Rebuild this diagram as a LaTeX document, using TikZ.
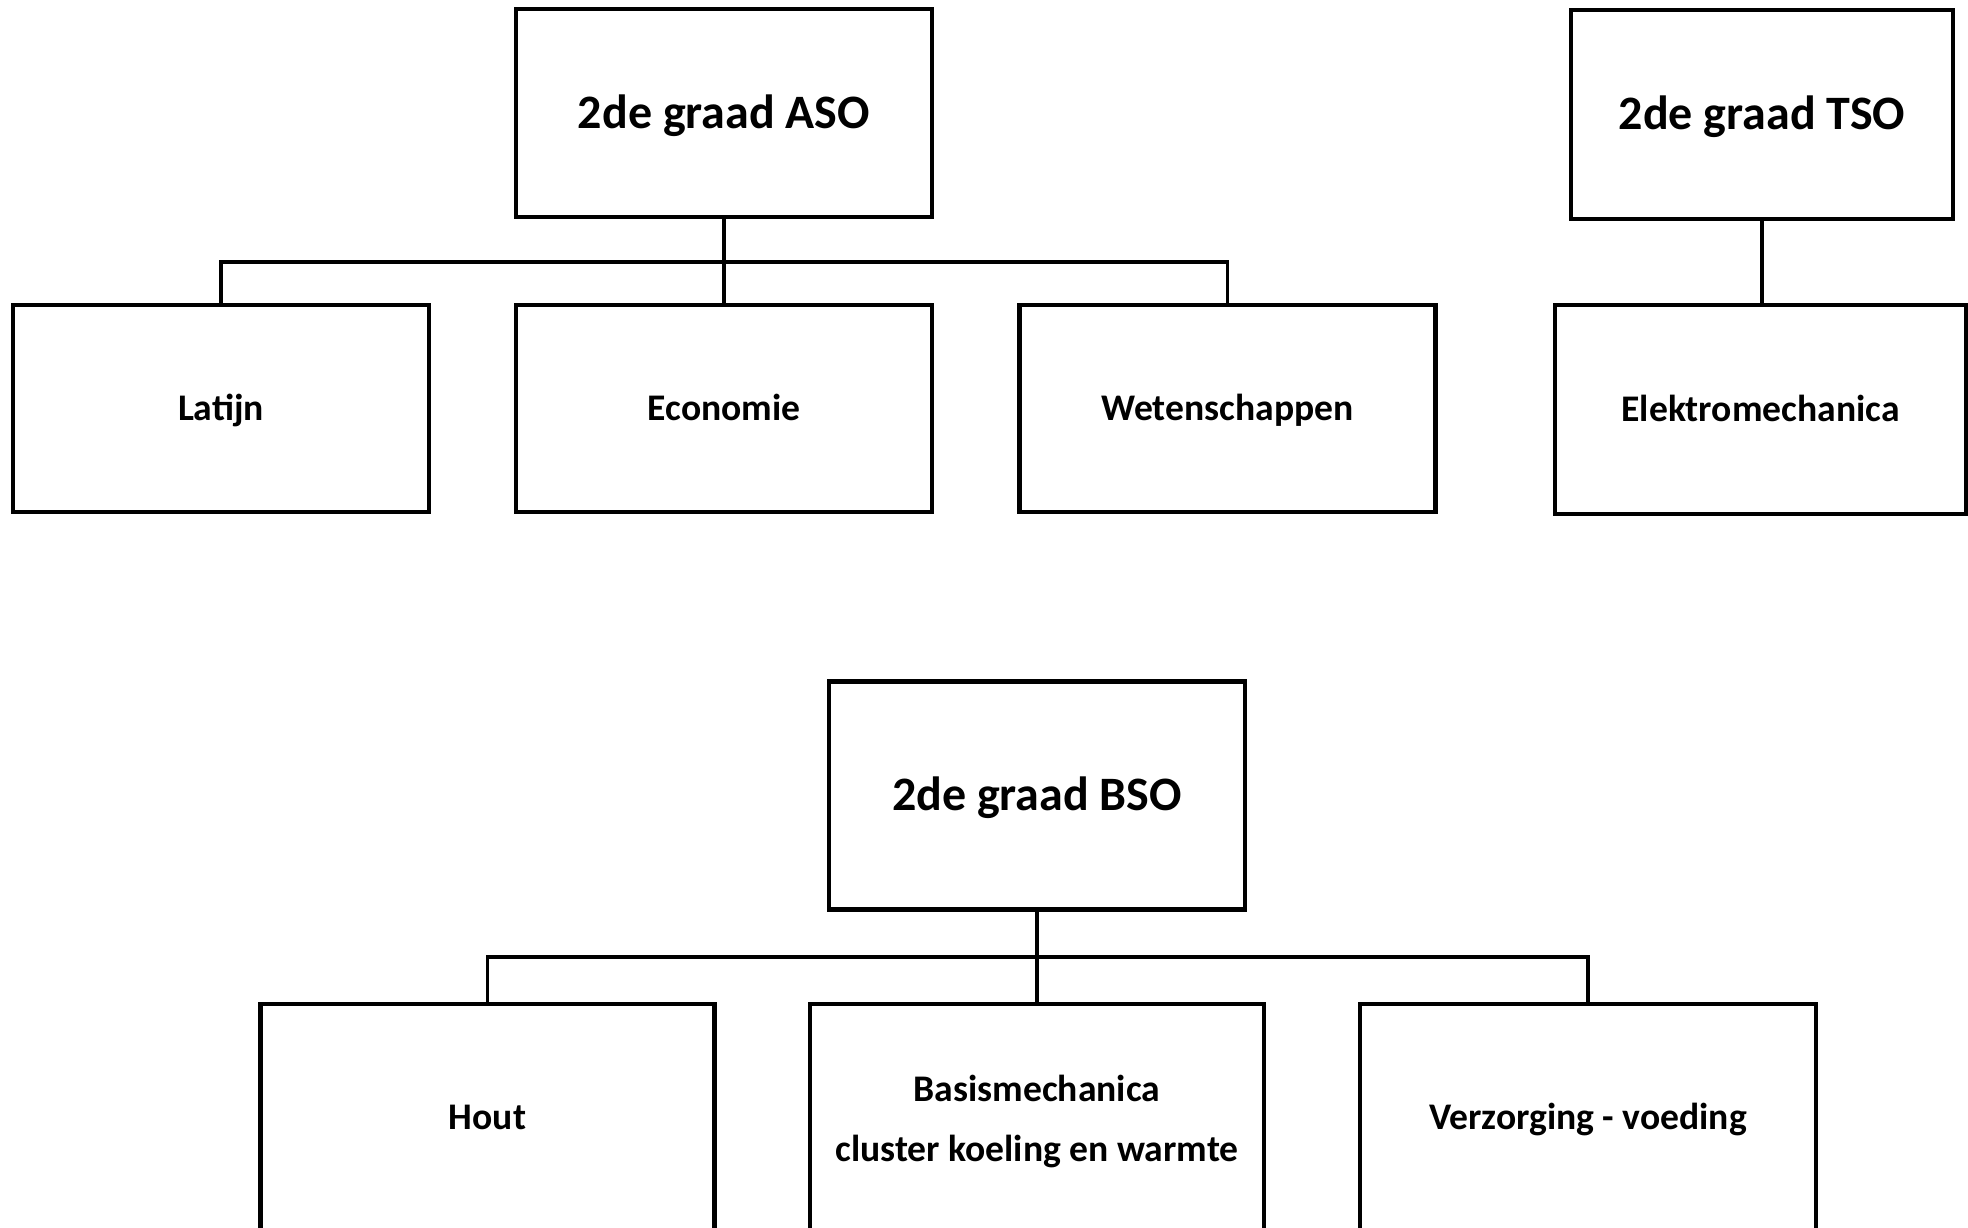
\documentclass[tikz,border=0pt]{standalone}
\usepackage{fontspec}
\setmainfont{Carlito}
\begin{document}
\begin{tikzpicture}[x=0.5pt,y=-0.5pt,
  box/.style={draw=black, line width=2.2pt, rectangle, inner sep=0pt, fill=white,
    font=\bfseries\fontsize{18.8}{30}\selectfont},
  one/.style={text height=11.9pt, text depth=0pt},
  head/.style={box, text height=15.2pt, text depth=0pt, font=\bfseries\fontsize{24}{29}\selectfont},
  conn/.style={draw=black, line width=1.8pt}]
\useasboundingbox (0,0) rectangle (1968,1227);
\fill[white] (0,0) rectangle (1968,1227);
\clip (0,0) rectangle (1968,1227);

% top-left tree
\node[head, minimum width=208pt, minimum height=104pt] (aso) at (724,113) {2de graad ASO};
\node[box, one, minimum width=208pt, minimum height=103.5pt] (latijn) at (221,408.5) {Latijn};
\node[box, one, minimum width=208pt, minimum height=103.5pt] (economie) at (724,408.5) {Economie};
\node[box, one, minimum width=208pt, minimum height=103.5pt] (wet) at (1227.5,408.5) {Wetenschappen};
\coordinate (busA) at (724,262);
\draw[conn] (aso.south) -- (economie.north);
\draw[conn] (latijn.north) |- (busA) -| (wet.north);

% top-right tree
\node[head, minimum width=191pt, minimum height=104.5pt] (tso) at (1762,114.5) {2de graad TSO};
\node[box, one, minimum width=205.5pt, minimum height=104.5pt] (elektro) at (1760.5,409.5) {Elektromechanica};
\draw[conn] (tso.south) -- (tso.south |- elektro.north);

% bottom tree
\node[head, minimum width=208pt, minimum height=114pt] (bso) at (1037,795.5) {2de graad BSO};
\node[box, one, minimum width=227pt, minimum height=114pt] (hout) at (487.5,1118) {Hout};
\node[box, align=center, minimum width=227pt, minimum height=114pt] (basis) at (1037,1118) {\\[-13pt]Basismechanica\\cluster koeling en warmte};
\node[box, one, minimum width=228pt, minimum height=114pt] (verz) at (1588,1118) {Verzorging - voeding};
\coordinate (busB) at (1037,957);
\draw[conn] (bso.south) -- (basis.north);
\draw[conn] (hout.north) |- (busB) -| (verz.north);
\end{tikzpicture}
\end{document}
